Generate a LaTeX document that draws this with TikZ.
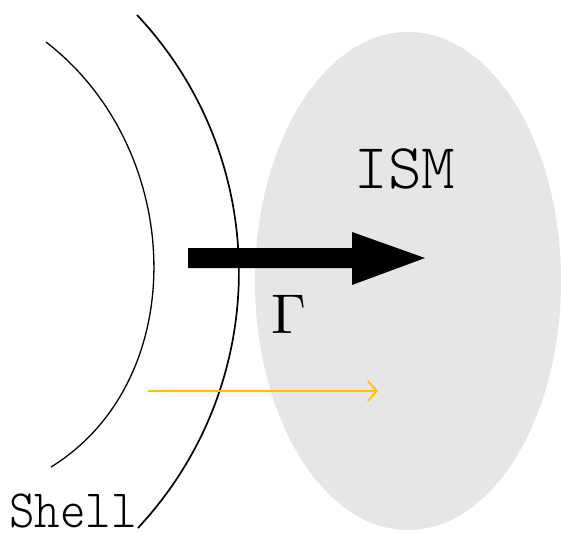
\documentclass[tikz,border=0pt]{standalone}
\usetikzlibrary{arrows.meta}
\definecolor{ismgray}{HTML}{E6E6E6}
\definecolor{orangeline}{HTML}{FFC000}
\tikzset{
  shellarc/.style={draw=black, line width=1.4pt},
  lbl/.style={inner sep=0pt, text=black, transform shape},
}
\begin{document}
\begin{tikzpicture}[x=1pt,y=-1pt]
\useasboundingbox (0,0) rectangle (561,538);
% ISM ellipse
\fill[ismgray] (408,281) ellipse [x radius=153, y radius=249];
% shells
\draw[shellarc, line width=1.3pt] (46,42) .. controls (186,150) and (192,380) .. (51,467);
\draw[shellarc, line width=1.7pt] (137,15) arc[start angle=-43.26, end angle=43.06, radius=375];
% big black arrow
\fill[black] (188,248) -- (352,248) -- (352,232) -- (425,258) -- (352,285) -- (352,268) -- (188,268) -- cycle;
% orange arrow
\coordinate (oa) at (148,391);
\coordinate (ob) at (378,391);
\draw[orangeline, line width=1.8pt, -{Straight Barb[length=9pt,width=20pt,line width=1.8pt]}] (oa) -- (ob);
% labels
\node[lbl, font=\ttfamily\fontseries{l}\fontsize{64}{64}\selectfont, anchor=base] (ism) at (405,188) {ISM};
\node[lbl, scale=5.6, anchor=base] (gamma) at (289,333) {$\Gamma$};
\node[lbl, font=\ttfamily\fontseries{l}\fontsize{54}{54}\selectfont, xscale=0.9, anchor=base west] (shell) at (9,527) {Shell};
\end{tikzpicture}
\end{document}
